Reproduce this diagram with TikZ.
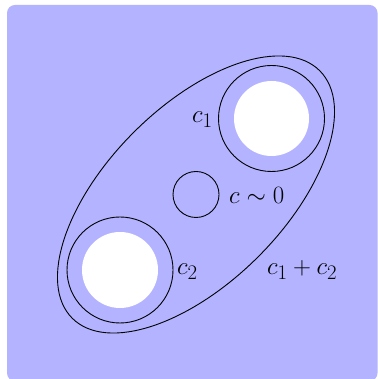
\documentclass[tikz,border=0pt]{standalone}
\definecolor{bgcol}{RGB}{179,179,255}
\begin{document}
\begin{tikzpicture}[x=1pt,y=1pt,
  curve/.style={draw=black,line width=0.9pt},
  hole/.style={fill=white},
  lab/.style={inner sep=0pt,anchor=base west,font=\fontsize{28}{33}\selectfont}]
\useasboundingbox (0,0) rectangle (377,379);
\fill[bgcol,rounded corners=8pt] (7,-2) rectangle (377.5,374);
\coordinate (C1) at (271.5,260.5);
\coordinate (C2) at (120,109);
\coordinate (M) at (196,184.5);
\fill[hole] (C1) circle (37.5);
\fill[hole] (C2) circle (38);
\draw[curve] (C1) circle (53);
\draw[curve] (C2) circle (53);
\draw[curve] (M) circle (23);
\draw[curve,rotate around={45:(M)}] (M) ellipse [x radius=175,y radius=88];
\node[lab] (l1) at (192,256) {$c_1$};
\node[lab] (l2) at (177,104) {$c_2$};
\node[lab] (l0) at (229,175) {$c\sim0$};
\node[lab] (l12) at (267,104) {$c_1+c_2$};
\end{tikzpicture}
\end{document}
